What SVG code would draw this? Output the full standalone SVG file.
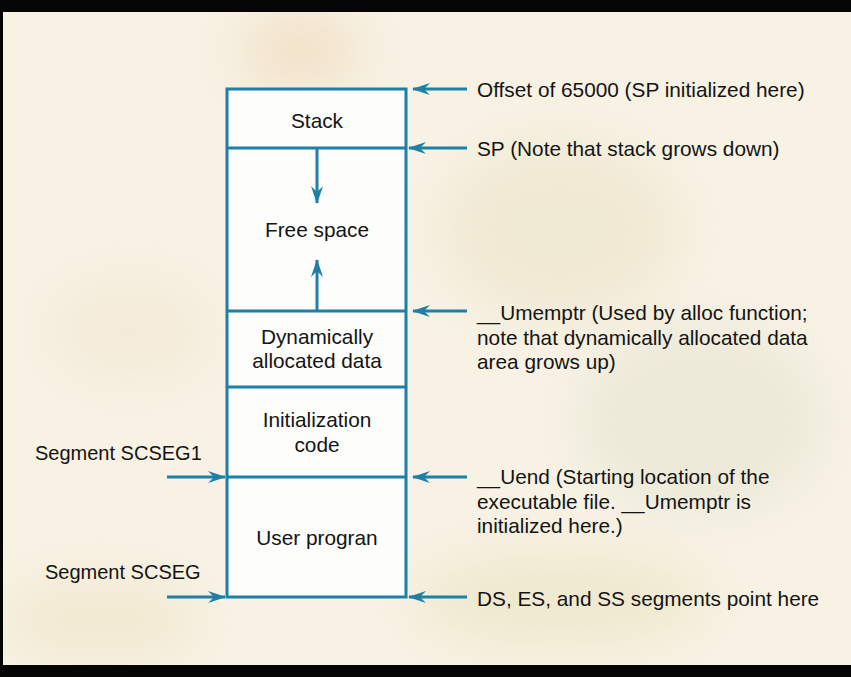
<svg xmlns="http://www.w3.org/2000/svg" width="851" height="677" viewBox="0 0 851 677">
<style>
.ln{stroke:#1f7fa6;stroke-width:3;fill:none}
.t{font-family:"Liberation Sans",Arial,sans-serif;font-size:20.8px;fill:#141414}
.s{font-size:20px}
.c{text-anchor:middle}
</style>
<defs>
<marker id="ah" viewBox="0 0 18 12" refX="17" refY="6" markerWidth="18" markerHeight="12" markerUnits="userSpaceOnUse" orient="auto">
<path d="M0,0 L18,6 L0,12 L6,6 z" fill="#1f7fa6"/>
</marker>
<filter id="bl" x="-50%" y="-50%" width="200%" height="200%"><feGaussianBlur stdDeviation="25"/></filter>
</defs>
<rect x="0" y="0" width="851" height="677" fill="#f7f2e4"/>
<g filter="url(#bl)" opacity="0.4">
<ellipse cx="300" cy="50" rx="60" ry="40" fill="#ecc9a0"/>
<ellipse cx="560" cy="230" rx="120" ry="90" fill="#e8dcbc"/>
<ellipse cx="700" cy="420" rx="120" ry="90" fill="#dcdcc8"/>
<ellipse cx="560" cy="600" rx="150" ry="50" fill="#e6dcb2"/>
<ellipse cx="100" cy="620" rx="100" ry="40" fill="#ecdcb6"/>
<ellipse cx="130" cy="330" rx="80" ry="50" fill="#f0e0c8"/>
</g>
<rect x="0" y="0" width="851" height="12" fill="#050505"/>
<rect x="0" y="0" width="3" height="677" fill="#050505"/>
<rect x="0" y="665" width="851" height="12" fill="#050505"/>
<g id="memory">
<rect x="227" y="89" width="179" height="508" fill="#fdfdfb"/>
</g>
<g id="stack"><text class="t c" x="317" y="128">Stack</text></g>
<g id="free-space"><text class="t c" x="317" y="237">Free space</text></g>
<g id="dynamic-data"><text class="t c" x="317" y="344">Dynamically</text><text class="t c" x="317" y="368">allocated data</text></g>
<g id="init-code"><text class="t c" x="317" y="427">Initialization</text><text class="t c" x="317" y="452">code</text></g>
<g id="user-program"><text class="t c" x="317" y="545">User progran</text></g>
<g id="labels-left">
<text class="t s" x="35" y="460">Segment SCSEG1</text>
<text class="t s" x="45" y="579">Segment SCSEG</text>
</g>
<g id="labels-right">
<text class="t" x="477" y="97">Offset of 65000 (SP initialized here)</text>
<text class="t" x="477" y="156">SP (Note that stack grows down)</text>
<text class="t" x="477" y="320">__Umemptr (Used by alloc function;</text>
<text class="t" x="477" y="345">note that dynamically allocated data</text>
<text class="t" x="477" y="369">area grows up)</text>
<text class="t" x="477" y="484">__Uend (Starting location of the</text>
<text class="t" x="477" y="509">executable file. __Umemptr is</text>
<text class="t" x="477" y="533">initialized here.)</text>
<text class="t" x="477" y="606">DS, ES, and SS segments point here</text>
</g>
<g id="connectors">
<path class="ln" d="M227,89 H406 V597 H227 Z"/>
<path class="ln" d="M227,148 H406 M227,311 H406 M227,387 H406 M227,477 H406"/>
<path class="ln" d="M317,148 V203" marker-end="url(#ah)"/>
<path class="ln" d="M317,311 V260" marker-end="url(#ah)"/>
<path class="ln" d="M467,89 H413" marker-end="url(#ah)"/>
<path class="ln" d="M467,148 H409" marker-end="url(#ah)"/>
<path class="ln" d="M467,311 H413" marker-end="url(#ah)"/>
<path class="ln" d="M467,477 H413" marker-end="url(#ah)"/>
<path class="ln" d="M467,597 H409" marker-end="url(#ah)"/>
<path class="ln" d="M167,477 H225" marker-end="url(#ah)"/>
<path class="ln" d="M167,597 H225" marker-end="url(#ah)"/>
</g>
</svg>
